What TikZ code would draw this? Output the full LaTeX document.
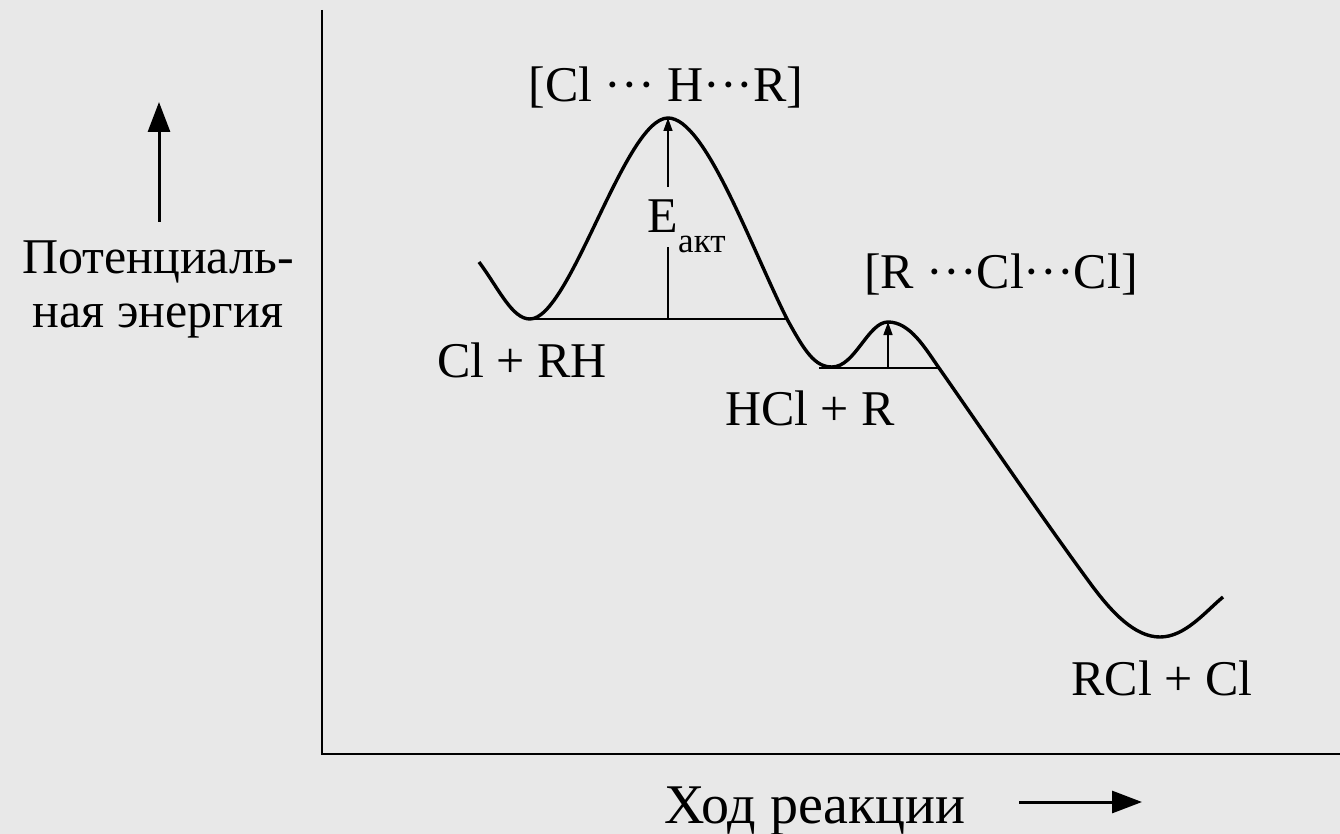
\documentclass[tikz,border=0pt]{standalone}
\usepackage{fontspec}
\setmainfont{Liberation Serif}
\usetikzlibrary{arrows.meta}
\definecolor{bgcol}{RGB}{232,232,232}

\begin{document}
\begin{tikzpicture}[x=1pt, y=-1pt,
    lbl/.style={font=\fontsize{50}{60}\selectfont, inner sep=0pt, anchor=base},
    sublbl/.style={font=\fontsize{35}{40}\selectfont, inner sep=0pt, anchor=base west},
    curve/.style={line width=3.4pt, line join=round},
    level/.style={line width=1.8pt},
    bigarrow/.style={line width=3pt, -{Triangle[length=30pt, width=22pt]}},
    smallarrow/.style={line width=1.4pt, -{Triangle[length=13pt, width=9pt]}}]
    % Background
    \fill[bgcol] (0,0) rectangle (1340,834);
    \useasboundingbox (0,0) rectangle (1340,834);

    % Axes
    \coordinate (ytop) at (322,10);
    \coordinate (origin) at (322,754);
    \coordinate (xend) at (1340,754);
    \draw[line width=1.8pt] (ytop) -- (origin) -- (xend);

    % Axis labels
    \node[lbl, font=\fontsize{50}{54}\selectfont, align=center] (ylab) at (158,327) {Потенциаль-\\ная энергия};
    \coordinate (ytail) at (159,222);
    \coordinate (yhead) at (159,102);
    \draw[bigarrow] (ytail) -- (yhead);
    \node[lbl, font=\fontsize{56}{60}\selectfont] (xlab) at (815,823) {Ход реакции};
    \coordinate (xtail) at (1019,802);
    \coordinate (xhead) at (1142,802);
    \draw[bigarrow] (xtail) -- (xhead);

    % Energy profile
    \draw[curve] (479,262) .. controls (499,289) and (512,319) .. (530,319)
        .. controls (570,319) and (625,118) .. (668,118)
        .. controls (705,118) and (750,245) .. (787,319)
        .. controls (805,352) and (815,367) .. (832,367)
        .. controls (855,367) and (868,322) .. (888,322)
        .. controls (910,322) and (925,348) .. (939,368)
        .. controls (972,415) and (1040,515) .. (1090,583)
        .. controls (1112,613) and (1135,637) .. (1160,637)
        .. controls (1185,637) and (1205,612) .. (1223,597);

    % First barrier
    \coordinate (lev1a) at (528,319);
    \coordinate (lev1b) at (787,319);
    \coordinate (base1) at (668,319);
    \coordinate (peak1) at (668,118);
    \draw[level] (lev1a) -- (lev1b);
    \node[lbl, text height=46pt, text depth=14pt] (eakt) at (663,233) {E};
    \node[sublbl] (eaktsub) at (678,253) {акт};
    \draw[smallarrow, -] (base1) -- (base1 |- eakt.south);
    \draw[smallarrow] (base1 |- eakt.north) -- (peak1);

    % Second barrier
    \coordinate (lev2a) at (819,368);
    \coordinate (lev2b) at (939,368);
    \coordinate (base2) at (888,368);
    \coordinate (peak2) at (888,322);
    \draw[level] (lev2a) -- (lev2b);
    \draw[smallarrow] (base2) -- (peak2);

    % Species
    \node[lbl] (ts1) at (666,102) {[Cl ··· H···R]};
    \node[lbl] (ts2) at (1001,288) {[R ···Cl···Cl]};
    \node[lbl] (react) at (522,377) {Cl + RH};
    \node[lbl] (inter) at (810,425) {HCl + R};
    \node[lbl] (prod) at (1162,695) {RCl + Cl};
\end{tikzpicture}
\end{document}
